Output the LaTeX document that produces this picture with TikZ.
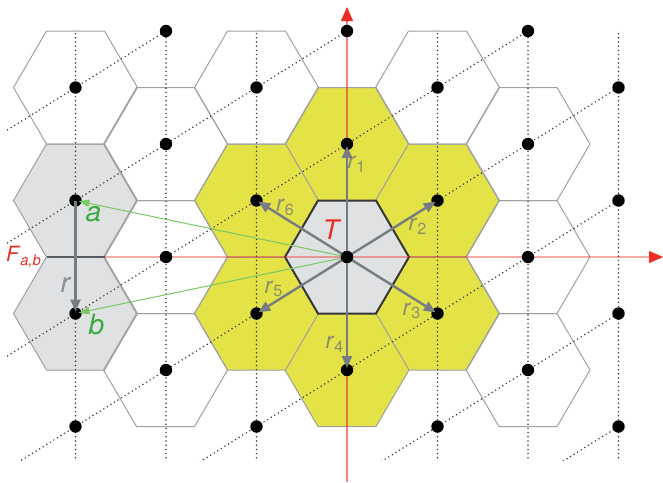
\documentclass[tikz,border=0pt]{standalone}
\usepackage{fontspec}
\setmainfont{TeX Gyre Heros}
\usetikzlibrary{arrows.meta}
\definecolor{cellyellow}{RGB}{227,227,72}
\definecolor{cellgray}{RGB}{224,225,227}
\definecolor{hexline}{RGB}{160,160,160}
\definecolor{darkline}{RGB}{55,55,55}
\definecolor{faceline}{RGB}{85,90,95}
\definecolor{vecgray}{RGB}{118,124,130}
\definecolor{labgray}{RGB}{110,115,120}
\definecolor{axisred}{RGB}{235,45,35}
\definecolor{gline}{RGB}{120,200,100}
\definecolor{gtext}{RGB}{60,170,60}
\definecolor{dotgray}{RGB}{60,60,60}
\tikzset{
  hexa/.pic={\path[pic actions] (-62,0)--(-29,-56.5)--(29,-56.5)--(62,0)--(29,56.5)--(-29,56.5)--cycle;},
  cell/.style={draw=hexline,line width=.5pt},
  dotline/.style={draw=dotgray,line width=.85pt,line cap=round,dash pattern=on 0pt off 2.1pt},
  vec/.style={draw=vecgray,line width=1.2pt,-{Triangle[length=6pt,width=5pt]},shorten >=1pt},
  gvec/.style={draw=gline,line width=.5pt,-{Triangle[length=5.5pt,width=3.5pt]},shorten >=1.5pt},
  axisline/.style={draw=axisred,draw opacity=.4,line width=1.2pt},
  axishead/.style={draw=axisred,fill=axisred,line width=.4pt,-{Triangle[length=7pt,width=6pt]}},
  rlab/.style={inner sep=0pt,text=labgray,text opacity=.75,font=\fontsize{11.5}{13}\selectfont},
  glab/.style={inner sep=0pt,text=gtext,font=\fontsize{14}{16}\selectfont},
  redlab/.style={inner sep=0pt,text=axisred}
}
\begin{document}
\begin{tikzpicture}[x=.5pt,y=-.5pt]
  \useasboundingbox (0,0) rectangle (663,482);
  \coordinate (T) at (347,257);
  \coordinate (r1) at (347,144);
  \coordinate (r2) at (437.5,200.5);
  \coordinate (r3) at (437.5,313.5);
  \coordinate (r4) at (347,370);
  \coordinate (r5) at (256.5,313.5);
  \coordinate (r6) at (256.5,200.5);
  \coordinate (a) at (75.5,200.5);
  \coordinate (b) at (75.5,313.5);
  \coordinate (Fl) at (46.5,257);
  \coordinate (Fr) at (104.5,257);
  \coordinate (xhead) at (649,257);
  \coordinate (xtip) at (663,257);
  \coordinate (ybot) at (347,482);
  \coordinate (yhead) at (347,21);
  \coordinate (ytip) at (347,7);
  % cells
  \foreach \k in {1,...,6} \pic[cell,fill=cellyellow] at (r\k) {hexa};
  \foreach \c in {a,b,T} \pic[cell,fill=cellgray] at (\c) {hexa};
  \foreach \x/\y in {75.5/87.5,165.5/144,256.5/87.5,437.5/87.5,528/144,165.5/257,528/257,165.5/370,528/370}
    \pic[cell] at (\x,\y) {hexa};
  % lattice lines
  \begin{scope}
    \clip (7,30) rectangle (620,460);
    \foreach \i in {-3,-2,-1,1,2,3} \draw[dotline] ({347+90.5*\i},0) -- ({347+90.5*\i},482);
    \foreach \c in {-82,31,144,257,370,483,596} \draw[dotline] (-53,{\c+249.7}) -- (747,{\c-249.7});
  \end{scope}
  \pic[draw=darkline,line width=1pt] at (T) {hexa};
  \draw[draw=faceline,line width=1.2pt] (Fl) -- (Fr);
  % axes
  \draw[axisline] (Fr) -- (xhead);
  \draw[axishead] (xhead) -- (xtip);
  \draw[axisline,line width=.7pt,draw opacity=.6] (ybot) -- (yhead);
  \draw[axishead] (yhead) -- (ytip);
  % lattice points
  \begin{scope}
    \clip (55,15) rectangle (645,445);
    \foreach \i in {-3,...,3} \foreach \j in {-4,...,4}
      \fill ({347+90.5*\i},{257-56.5*\i+113*\j}) circle (3.1pt);
  \end{scope}
  % vectors
  \foreach \k in {1,...,6} \draw[vec] (T) -- (r\k);
  \draw[vec] (a) -- (b);
  \draw[gvec] (T) -- (a);
  \draw[gvec] (T) -- (b);
  \fill (T) circle (3.1pt);
  % labels
  \node[rlab] (l1) at (357,164) {\textit{r}\textsubscript{1}};
  \node[rlab] (l2) at (418,226.5) {\textit{r}\textsubscript{2}};
  \node[rlab] (l3) at (412,311) {\textit{r}\textsubscript{3}};
  \node[rlab] (l4) at (335,344) {\textit{r}\textsubscript{4}};
  \node[rlab] (l5) at (274,289) {\textit{r}\textsubscript{5}};
  \node[rlab] (l6) at (285.5,207.5) {\textit{r}\textsubscript{6}};
  \node[rlab,font=\fontsize{14}{16}\selectfont] (lr) at (66,285) {\textit{r}};
  \node[redlab,font=\fontsize{13.5}{16}\selectfont] (lT) at (332,230) {\textit{T}};
  \node[glab] (la) at (93.5,214) {\textit{a}};
  \node[glab] (lb) at (96.5,324) {\textit{b}};
  \node[redlab,font=\fontsize{10.5}{12}\selectfont] (lF) at (24,257) {\textit{F}\textsubscript{\textit{a,b}}};
\end{tikzpicture}
\end{document}
